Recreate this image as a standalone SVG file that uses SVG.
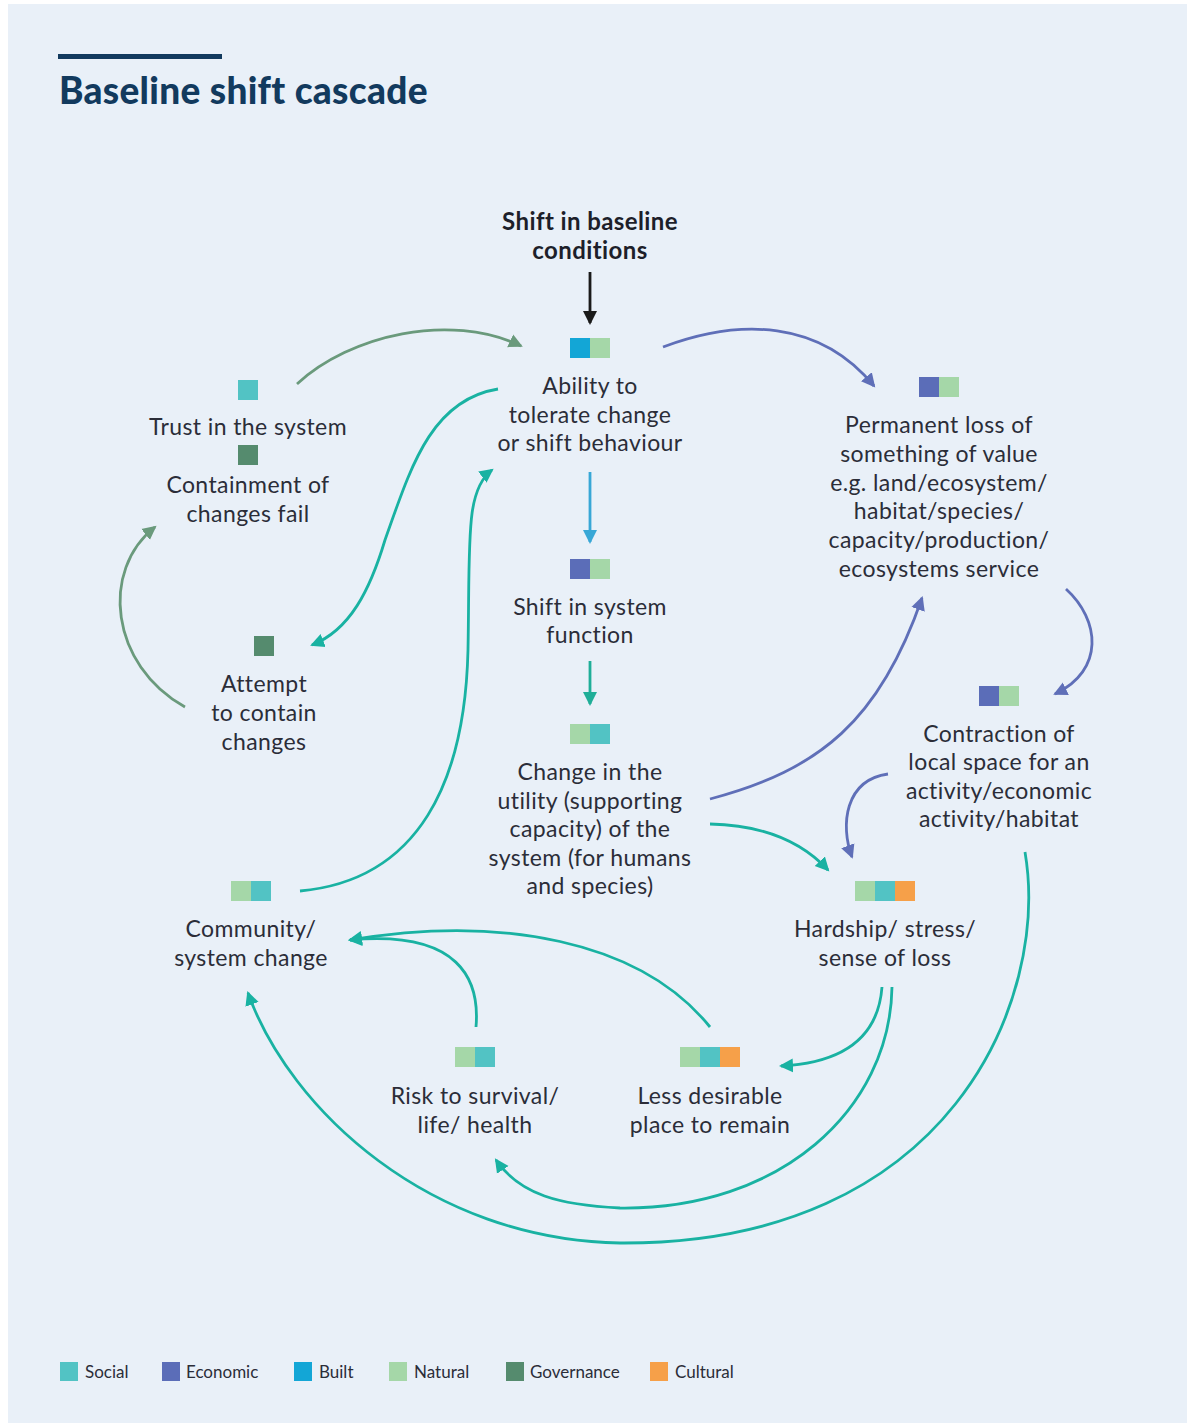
<svg xmlns="http://www.w3.org/2000/svg" width="1187" height="1425" viewBox="0 0 1187 1425">
<style>
.t{font-family:Lato,"Open Sans",sans-serif;font-size:23px;letter-spacing:0.4px;fill:#2b2d38;text-anchor:middle}
.b{font-weight:bold;fill:#1d1f2a;font-size:24px}
.lg{font-family:Lato,"Open Sans",sans-serif;font-size:17px;fill:#2b2d38}
.so{fill:#52c3c4}.ec{fill:#5b6db8}.bu{fill:#13a6d6}.na{fill:#a5d7a8}.go{fill:#558b6e}.cu{fill:#f6a049}
.c{fill:none;stroke-width:2.8}
.k{stroke:#1a1a1a}.g{stroke:#6a9a7c}.e{stroke:#5f6fb8}.tl{stroke:#19b2a2}.lb{stroke:#38a7d6}.tg{stroke:#1fae98}
</style>
<defs>
<marker id="mk" markerUnits="userSpaceOnUse" markerWidth="16" markerHeight="16" refX="12" refY="8" orient="auto"><path d="M0,1 L14,8 L0,15 Z" fill="#1a1a1a"/></marker>
<marker id="mg" markerUnits="userSpaceOnUse" markerWidth="16" markerHeight="16" refX="12" refY="8" orient="auto"><path d="M0,1 L14,8 L0,15 Z" fill="#6a9a7c"/></marker>
<marker id="me" markerUnits="userSpaceOnUse" markerWidth="16" markerHeight="16" refX="12" refY="8" orient="auto"><path d="M0,1 L14,8 L0,15 Z" fill="#5f6fb8"/></marker>
<marker id="mt" markerUnits="userSpaceOnUse" markerWidth="16" markerHeight="16" refX="12" refY="8" orient="auto"><path d="M0,1 L14,8 L0,15 Z" fill="#19b2a2"/></marker>
<marker id="mb" markerUnits="userSpaceOnUse" markerWidth="16" markerHeight="16" refX="12" refY="8" orient="auto"><path d="M0,1 L14,8 L0,15 Z" fill="#38a7d6"/></marker>
<marker id="mtg" markerUnits="userSpaceOnUse" markerWidth="16" markerHeight="16" refX="12" refY="8" orient="auto"><path d="M0,1 L14,8 L0,15 Z" fill="#1fae98"/></marker>
</defs>
<rect x="0" y="0" width="1187" height="1425" fill="#ffffff"/>
<rect x="8" y="4" width="1179" height="1419" fill="#e9f0f8"/>
<g id="title">
<rect x="58" y="54" width="164" height="5" fill="#123a5e"/>
<text x="59" y="104" style="font-family:Lato,'Open Sans',sans-serif;font-size:37px;letter-spacing:0.3px;font-weight:900;fill:#123a5e">Baseline shift cascade</text>
</g>
<g id="connectors">
<path class="c k" d="M590,272 L590,323" marker-end="url(#mk)"/>
<path class="c g" d="M297,384 C350,335 450,312 521,346" marker-end="url(#mg)"/>
<path class="c g" d="M185,707 C110,665 100,570 155,527" marker-end="url(#mg)"/>
<path class="c tl" d="M498,389 C430,400 410,470 385,540 C370,590 350,630 312,645" marker-end="url(#mt)"/>
<path class="c tl" d="M300,891 C420,880 465,780 468,650 C470,540 465,490 492,470" marker-end="url(#mt)"/>
<path class="c e" d="M663,347 C740,318 820,320 874,386" marker-end="url(#me)"/>
<path class="c e" d="M1066,589 C1100,620 1105,670 1055,694" marker-end="url(#me)"/>
<path class="c e" d="M710,799 C820,770 880,720 922,598" marker-end="url(#me)"/>
<path class="c e" d="M888,774 C845,780 840,825 852,857" marker-end="url(#me)"/>
<path class="c lb" d="M590,472 L590,542" marker-end="url(#mb)"/>
<path class="c tg" d="M590,661 L590,704" marker-end="url(#mtg)"/>
<path class="c tl" d="M710,824 C760,825 800,840 828,870" marker-end="url(#mt)"/>
<path class="c tl" d="M710,1027 C640,940 500,915 350,940" marker-end="url(#mt)"/>
<path class="c tl" d="M476,1027 C480,980 460,930 350,940" marker-end="url(#mt)"/>
<path class="c tl" d="M882,987 C878,1040 840,1063 781,1066" marker-end="url(#mt)"/>
<path class="c tl" d="M892,987 C890,1110 780,1210 620,1208 C560,1205 520,1195 496,1160" marker-end="url(#mt)"/>
<path class="c tl" d="M1025,852 C1050,1000 950,1245 620,1243 C430,1240 290,1110 248,993" marker-end="url(#mt)"/>
</g>
<g id="n-baseline">
<text class="t b" x="590" y="230">Shift in baseline</text>
<text class="t b" x="590" y="259">conditions</text>
</g>
<g id="n-ability">
<rect class="bu" x="570" y="338" width="20" height="20"/><rect class="na" x="590" y="338" width="20" height="20"/>
<text class="t" x="590" y="394">Ability to</text>
<text class="t" x="590" y="423">tolerate change</text>
<text class="t" x="590" y="451">or shift behaviour</text>
</g>
<g id="n-trust">
<rect class="so" x="238" y="380" width="20" height="20"/>
<text class="t" x="248" y="435">Trust in the system</text>
</g>
<g id="n-containment">
<rect class="go" x="238" y="445" width="20" height="20"/>
<text class="t" x="248" y="493">Containment of</text>
<text class="t" x="248" y="522">changes fail</text>
</g>
<g id="n-attempt">
<rect class="go" x="254" y="636" width="20" height="20"/>
<text class="t" x="264" y="692">Attempt</text>
<text class="t" x="264" y="721">to contain</text>
<text class="t" x="264" y="750">changes</text>
</g>
<g id="n-shift">
<rect class="ec" x="570" y="559" width="20" height="20"/><rect class="na" x="590" y="559" width="20" height="20"/>
<text class="t" x="590" y="615">Shift in system</text>
<text class="t" x="590" y="643">function</text>
</g>
<g id="n-utility">
<rect class="na" x="570" y="724" width="20" height="20"/><rect class="so" x="590" y="724" width="20" height="20"/>
<text class="t" x="590" y="780">Change in the</text>
<text class="t" x="590" y="809">utility (supporting</text>
<text class="t" x="590" y="837">capacity) of the</text>
<text class="t" x="590" y="866">system (for humans</text>
<text class="t" x="590" y="894">and species)</text>
</g>
<g id="n-permanent">
<rect class="ec" x="919" y="377" width="20" height="20"/><rect class="na" x="939" y="377" width="20" height="20"/>
<text class="t" x="939" y="433">Permanent loss of</text>
<text class="t" x="939" y="462">something of value</text>
<text class="t" x="939" y="491">e.g. land/ecosystem/</text>
<text class="t" x="939" y="519">habitat/species/</text>
<text class="t" x="939" y="548">capacity/production/</text>
<text class="t" x="939" y="577">ecosystems service</text>
</g>
<g id="n-contraction">
<rect class="ec" x="979" y="686" width="20" height="20"/><rect class="na" x="999" y="686" width="20" height="20"/>
<text class="t" x="999" y="742">Contraction of</text>
<text class="t" x="999" y="770">local space for an</text>
<text class="t" x="999" y="799">activity/economic</text>
<text class="t" x="999" y="827">activity/habitat</text>
</g>
<g id="n-hardship">
<rect class="na" x="855" y="881" width="20" height="20"/><rect class="so" x="875" y="881" width="20" height="20"/><rect class="cu" x="895" y="881" width="20" height="20"/>
<text class="t" x="885" y="937">Hardship/ stress/</text>
<text class="t" x="885" y="966">sense of loss</text>
</g>
<g id="n-community">
<rect class="na" x="231" y="881" width="20" height="20"/><rect class="so" x="251" y="881" width="20" height="20"/>
<text class="t" x="251" y="937">Community/</text>
<text class="t" x="251" y="966">system change</text>
</g>
<g id="n-risk">
<rect class="na" x="455" y="1047" width="20" height="20"/><rect class="so" x="475" y="1047" width="20" height="20"/>
<text class="t" x="475" y="1104">Risk to survival/</text>
<text class="t" x="475" y="1133">life/ health</text>
</g>
<g id="n-less">
<rect class="na" x="680" y="1047" width="20" height="20"/><rect class="so" x="700" y="1047" width="20" height="20"/><rect class="cu" x="720" y="1047" width="20" height="20"/>
<text class="t" x="710" y="1104">Less desirable</text>
<text class="t" x="710" y="1133">place to remain</text>
</g>
<g id="legend">
<rect class="so" x="60" y="1362" width="18" height="19"/><text class="lg" x="85" y="1378">Social</text>
<rect class="ec" x="162" y="1362" width="18" height="19"/><text class="lg" x="186" y="1378">Economic</text>
<rect class="bu" x="294" y="1362" width="18" height="19"/><text class="lg" x="319" y="1378">Built</text>
<rect class="na" x="389" y="1362" width="18" height="19"/><text class="lg" x="414" y="1378">Natural</text>
<rect class="go" x="506" y="1362" width="18" height="19"/><text class="lg" x="530" y="1378">Governance</text>
<rect class="cu" x="650" y="1362" width="18" height="19"/><text class="lg" x="675" y="1378">Cultural</text>
</g>
</svg>
